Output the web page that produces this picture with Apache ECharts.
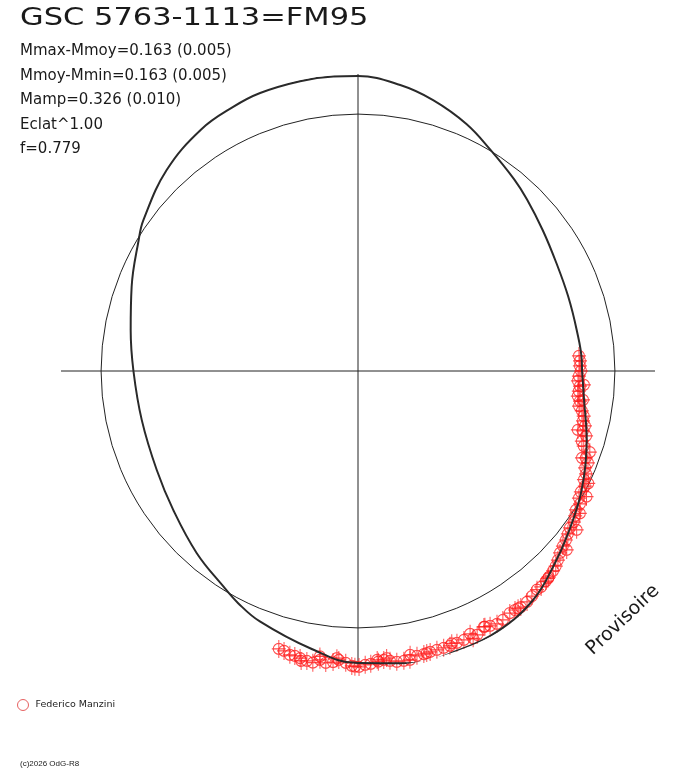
<!DOCTYPE html>
<html>
<head>
<meta charset="utf-8">
<script src="https://cdn.jsdelivr.net/npm/echarts@6/dist/echarts.min.js"></script>
<style>
  html, body { margin: 0; padding: 0; background: #fff; }
  #chart { width: 688px; height: 768px; }
</style>
</head>
<body>
<div id="chart"></div>
<script>
// angles in degrees (counter-clockwise from the right), radius relative to the mean circle
const curveAngle = [0, 2.8, 10.6, 19.5, 28.5, 37.3, 45.4, 50.8, 59.2, 66.3, 74.5, 81.6, 90, 94.8,
  101.3, 109.4, 115.3, 123.0, 133.6, 144.9, 149.2, 159.6, 169.8, 180, 192.8, 206.2, 217, 228.5,
  238, 242.7, 248.6, 260.2, 270, 280.1, 290.1, 298.7, 307.4, 314.9, 322.4, 332, 343.2, 352.7, 360];
const curveRadius = [0.872, 0.872, 0.866, 0.868, 0.879, 0.904, 0.937, 0.962, 1.004, 1.050, 1.094,
  1.125, 1.148, 1.150, 1.150, 1.147, 1.137, 1.121, 1.080, 1.021, 0.994, 0.940, 0.899, 0.874, 0.863,
  0.873, 0.900, 0.947, 0.989, 1.017, 1.047, 1.095, 1.137, 1.155, 1.155, 1.149, 1.122, 1.076, 1.033,
  0.986, 0.930, 0.887, 0.872];

const obsAngle = [3.9, 2.6, 1.3, 0, 358.7, 357.4, 356.1, 354.8, 353.5, 352.3, 351.0, 349.9, 348.7,
  347.5, 346.4, 345.1, 344.1, 342.6, 341.6, 340.7, 339.1, 338.2, 336.9, 335.7, 334.3, 333.1, 331.5,
  330.1, 329.1, 327.5, 326.3, 325.0, 323.5, 322.2, 320.9, 319.5, 318.0, 316.6, 315.4, 314.3, 312.8,
  311.8, 310.3, 309.3, 307.7, 306.2, 304.6, 303.3, 302.1, 300.2, 298.8, 297.4, 296.2, 294.3, 293.1,
  291.5, 290.0, 288.5, 287.2, 285.8, 284.4, 283.1, 281.7, 280.2, 279.0, 277.6, 276.3, 275.1, 273.8,
  272.5, 271.4, 270.2, 268.8, 267.6, 266.2, 265.1, 263.7, 262.5, 261.2, 260.0, 258.9, 257.5, 256.5,
  255.2, 254.1,
  324.0, 327.3, 331.2, 334.0, 319.4, 312.5, 304.0, 296.4, 258.6, 262.4, 265.8, 269.4, 274.0, 275.7,
  280.4, 283.7, 289.0, 293.3, 356.5, 352.7, 345.0, 338.8];
const obsRadius = [0.862, 0.865, 0.864, 0.868, 0.860, 0.857, 0.866, 0.863, 0.861, 0.872, 0.871, 0.885,
  0.896, 0.897, 0.909, 0.906, 0.923, 0.913, 0.926, 0.956, 0.949, 0.964, 0.961, 0.974, 0.976, 0.990,
  0.987, 0.992, 1.007, 1.006, 1.016, 1.025, 1.026, 1.034, 1.043, 1.049, 1.058, 1.071, 1.081, 1.087,
  1.093, 1.097, 1.102, 1.100, 1.107, 1.114, 1.116, 1.113, 1.112, 1.121, 1.123, 1.117, 1.110, 1.127,
  1.112, 1.125, 1.126, 1.128, 1.128, 1.128, 1.129, 1.131, 1.132, 1.142, 1.142, 1.142, 1.135, 1.129,
  1.127, 1.141, 1.144, 1.152, 1.148, 1.137, 1.127, 1.137, 1.143, 1.134, 1.149, 1.146, 1.150, 1.136,
  1.136, 1.127, 1.125,
  1.052, 1.026, 1.015, 0.997, 1.070, 1.095, 1.114, 1.111, 1.140, 1.121, 1.121, 1.151, 1.134, 1.123,
  1.123, 1.130, 1.121, 1.133, 0.881, 0.883, 0.886, 0.935];

const statLines = [
  "Mmax-Mmoy=0.163 (0.005)",
  "Mmoy-Mmin=0.163 (0.005)",
  "Mamp=0.326 (0.010)",
  "Eclat^1.00",
  "f=0.779",
];

const chart = echarts.init(document.getElementById("chart"), null, { renderer: "canvas" });

const curveData = curveAngle.map((a, i) => [curveRadius[i], a]);
const obsData = obsAngle.map((a, i) => [obsRadius[i], a]);

// open circle with its error cross
const pointSymbol =
  "path://M9,0 L9,18 M2,9 L16,9 M14.5,9 A5.5,5.5 0 1 1 3.5,9 A5.5,5.5 0 1 1 14.5,9";

const graphics = [
  {
    type: "text",
    x: 20,
    y: 18.5,
    scaleX: 1.22,
    style: {
      text: "GSC 5763-1113=FM95",
      font: '25px "DejaVu Sans"',
      fill: "#1a1a1a",
      align: "left",
      verticalAlign: "middle",
    },
  },
  {
    type: "text",
    x: 623,
    y: 620,
    rotation: (43.5 * Math.PI) / 180,
    style: {
      text: "Provisoire",
      font: '19px "DejaVu Sans"',
      fill: "#1a1a1a",
      align: "center",
      verticalAlign: "middle",
    },
  },
  {
    type: "text",
    x: 20,
    y: 763.5,
    style: {
      text: "(c)2026 OdG-R8",
      font: '8px "Liberation Sans"',
      fill: "#222",
      align: "left",
      verticalAlign: "middle",
    },
  },
];

statLines.forEach((t, i) => {
  graphics.push({
    type: "text",
    x: 20,
    y: 51.5 + i * 24.5,
    style: {
      text: t,
      font: '15px "DejaVu Sans"',
      fill: "#1a1a1a",
      align: "left",
      verticalAlign: "middle",
    },
  });
});

let option = {
  backgroundColor: "#fff",
  animation: false,
  polar: { center: [358, 371], radius: 297 },
  angleAxis: {
    type: "value",
    min: 0,
    max: 360,
    interval: 90,
    startAngle: 0,
    clockwise: false,
    axisLine: { show: false },
    axisTick: { show: false },
    axisLabel: { show: false },
    splitLine: { show: true, lineStyle: { color: "#222", width: 1 } },
  },
  radiusAxis: {
    type: "value",
    min: 0,
    max: 1.156,
    interval: 1,
    axisLine: { show: false },
    axisTick: { show: false },
    axisLabel: { show: false },
    splitLine: {
      show: true,
      lineStyle: { color: ["rgba(0,0,0,0)", "#222", "rgba(0,0,0,0)"], width: 1 },
    },
  },
  legend: {
    left: 17,
    top: 699,
    padding: 0,
    itemWidth: 11,
    itemHeight: 11,
    textStyle: { fontFamily: "DejaVu Sans", fontSize: 9.5, color: "#222", padding: [0, 0, 0, 2] },
    data: [
      {
        name: "Federico Manzini",
        icon: "circle",
        itemStyle: { color: "#fff", borderColor: "#e03a3a", borderWidth: 1 },
      },
    ],
  },
  graphic: graphics,
  series: [
    {
      name: "Federico Manzini",
      type: "scatter",
      coordinateSystem: "polar",
      data: obsData,
      symbol: pointSymbol,
      symbolSize: [14, 18],
      itemStyle: { color: "rgba(0,0,0,0)", borderColor: "#ff1c1c", borderWidth: 1.1 },
      z: 2,
    },
    {
      name: "fit",
      type: "line",
      coordinateSystem: "polar",
      data: curveData,
      smooth: 0.4,
      symbol: "none",
      lineStyle: { color: "#2a2a2a", width: 2 },
      z: 3,
    },
  ],
};

chart.setOption(option);
</script>
</body>
</html>
